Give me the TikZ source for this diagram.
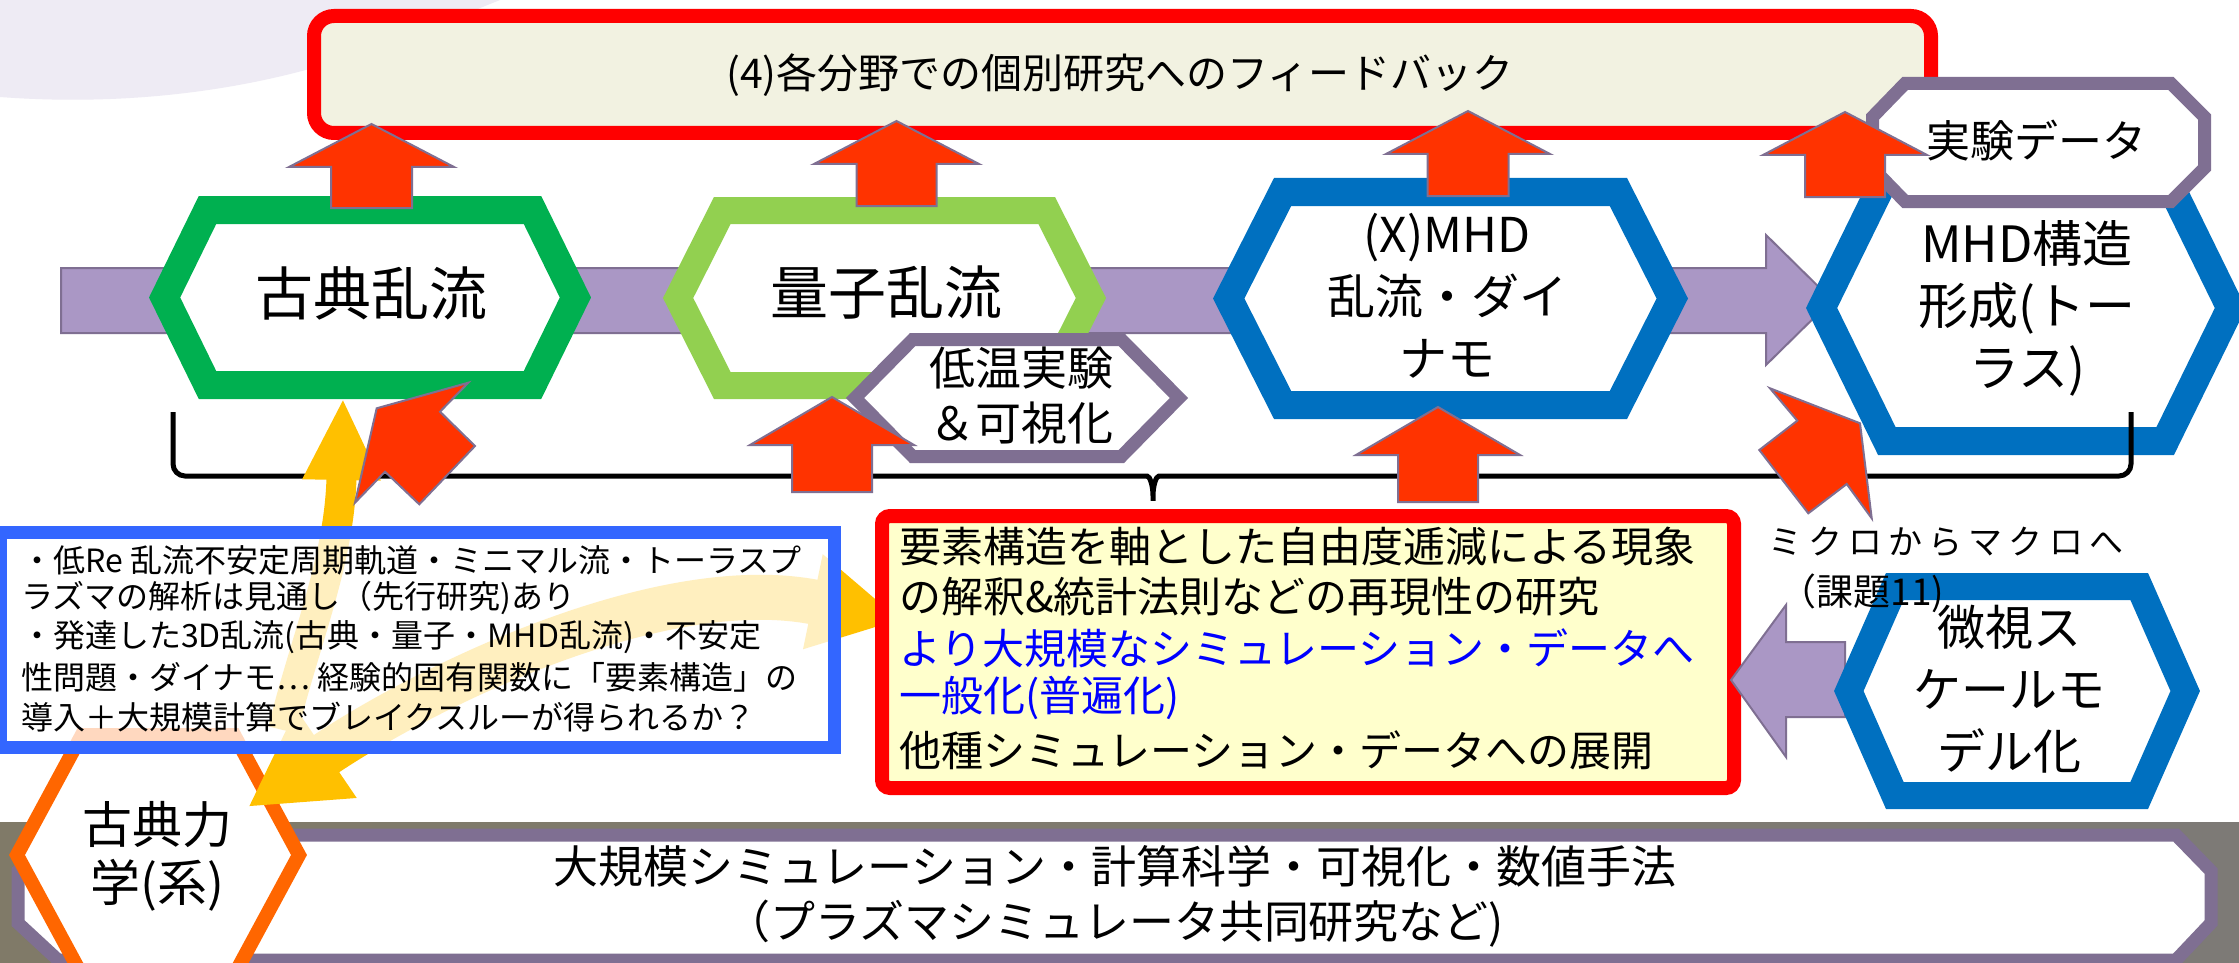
\documentclass[tikz,border=0pt]{standalone}
\usepackage{fontspec}
\setmainfont{Noto Sans CJK JP}
\usetikzlibrary{arrows.meta}
\definecolor{grn}{RGB}{0,176,80}
\definecolor{lgrn}{RGB}{146,208,80}
\definecolor{hblue}{RGB}{0,112,192}
\definecolor{pgray}{RGB}{127,111,146}
\definecolor{pband}{RGB}{170,151,197}
\definecolor{rarrow}{RGB}{255,51,0}
\definecolor{rbord}{RGB}{255,0,0}
\definecolor{topfill}{RGB}{242,242,225}
\definecolor{yfill}{RGB}{255,255,204}
\definecolor{bbord}{RGB}{51,102,255}
\definecolor{yarr}{RGB}{255,192,0}
\definecolor{oran}{RGB}{255,102,0}
\definecolor{blobc}{RGB}{238,235,244}
\definecolor{btext}{RGB}{0,0,255}
\definecolor{photoL}{RGB}{128,122,104}
\definecolor{photoR}{RGB}{125,122,118}
\newcommand\fs[2]{\fontsize{#1}{#2}\selectfont}
% hexagon: cx cy b a h linewidth colour
\newcommand\hexa[7]{\draw[line width=#6pt, draw=#7, fill=white, line join=miter]
  ({#1-#3},#2) -- ({#1-#4},{#2-#5}) -- ({#1+#4},{#2-#5}) -- ({#1+#3},#2) --
  ({#1+#4},{#2+#5}) -- ({#1-#4},{#2+#5}) -- cycle;}
% up block arrow: c tip headbase bottom headhalf shafthalf
\newcommand\uparr[6]{\draw[redarr] ({#1-#6},#4) -- ({#1-#6},#3) -- ({#1-#5},#3) --
  (#1,#2) -- ({#1+#5},#3) -- ({#1+#6},#3) -- ({#1+#6},#4) -- cycle;}
\tikzset{
  redarr/.style={fill=rarrow, draw=pgray, line width=2pt, line join=miter},
  bandarr/.style={fill=pband, draw=pgray, line width=2pt, line join=miter},
  brace/.style={draw=black, line width=5pt, rounded corners=12pt},
  yel/.style={draw=yarr, line cap=butt},
  lbl/.style={inner sep=0pt, align=center},
  lline/.style={inner sep=0pt, anchor=west}
}
\begin{document}
\begin{tikzpicture}[x=1pt, y=-1pt]
\useasboundingbox (0,0) rectangle (2239,963);
\fill[white] (0,0) rectangle (2239,963);
% background blob
\fill[blobc] (0,0) -- (500,0) .. controls (450,20) and (400,42) .. (320,66)
  .. controls (230,92) and (120,106) .. (0,97) -- cycle;
% photo strip at the bottom
\shade[left color=photoL, right color=photoR] (0,822) rectangle (2239,963);
% bottom band
\draw[line width=13pt, draw=pgray, fill=white, line join=miter]
  (58,835) -- (2176,835) -- (2211,871) -- (2211,923) -- (2176,960) -- (58,960)
  -- (18,923) -- (18,871) -- cycle;
% main purple arrow
\draw[bandarr] (61,268) -- (1766,268) -- (1766,235) -- (1832,300) -- (1766,365)
  -- (1766,333) -- (61,333) -- cycle;
% top feedback box
\draw[line width=14pt, draw=rbord, fill=topfill, rounded corners=20pt]
  (314,16) rectangle (1931,133);
\node[lbl, font=\fs{41}{41}] (fb) at (1120,75) {(4)各分野での個別研究へのフィードバック};
% hexagons
\hexa{370}{297.5}{205.4}{162.5}{87.5}{28}{grn}
\hexa{884.5}{298}{206.4}{162.2}{87.5}{27}{lgrn}
\hexa{1450.5}{298.5}{221.8}{167.9}{106.5}{28}{hblue}
\hexa{2026}{308}{204.4}{139.2}{133}{28}{hblue}
\hexa{1017}{398}{161.9}{104.3}{58.5}{13}{pgray}
% experiment data octagon
\draw[line width=13pt, draw=pgray, fill=white, line join=miter]
  (1905,83.5) -- (2171,83.5) -- (2204.5,117) -- (2204.5,168) -- (2171,201.5)
  -- (1905,201.5) -- (1872.5,168) -- (1872.5,117) -- cycle;
\node[lbl, font=\fs{58}{58}] (kt) at (371,293) {古典乱流};
\node[lbl, font=\fs{58}{58}] (qt) at (886,293) {量子乱流};
\node[lbl, font=\fs{48}{62}] (mhd) at (1447,296) {(X)MHD\\乱流・ダイ\\ナモ};
\node[lbl, font=\fs{50}{62}] (mhds) at (2027,308) {MHD構造\\形成(トー\\ラス)};
\node[lbl, font=\fs{44}{44}] (exp) at (2036,141) {実験データ};
\node[lbl, font=\fs{46}{55}] (lowt) at (1021,396) {低温実験\\＆可視化};
% brace
\draw[brace] (173,412) -- (173,476) -- (1135,476)
  .. controls (1150,476) and (1153,486) .. (1153,508)
  .. controls (1153,486) and (1156,476) .. (1171,476) -- (2131,476) -- (2131,412);
% classical mechanics hexagon
\hexa{158}{855}{141}{76.2}{120}{14}{oran}
\node[lbl, font=\fs{50}{58}] (cm) at (157,856) {古典力\\学(系)};
% yellow arrows
\draw[yel, line width=30pt, -{Triangle[length=82pt,width=72pt]}]
  (283,730) .. controls (305,640) and (340,560) .. (343,398);
\draw[yel, line width=45pt, {Triangle[length=95pt,width=100pt]}-{Triangle[length=90pt,width=90pt]}]
  (248,807) .. controls (420,690) and (660,570) .. (901,620);
% blue text box
\draw[line width=13pt, draw=bbord, fill=white, fill opacity=0.75]
  (0.5,532) rectangle (834.5,747);
\node[lline, font=\fs{32}{32}] (b1) at (21,560) {・低Re 乱流不安定周期軌道・ミニマル流・トーラスプ};
\node[lline, font=\fs{32}{32}] (b2) at (21,598) {ラズマの解析は見通し（先行研究)あり};
\node[lline, font=\fs{32}{32}] (b3) at (21,637) {・発達した3D乱流(古典・量子・MHD乱流)・不安定};
\node[lline, font=\fs{32}{32}] (b4) at (21,677) {性問題・ダイナモ… 経験的固有関数に「要素構造」の};
\node[lline, font=\fs{32}{32}] (b5) at (21,717) {導入＋大規模計算でブレイクスルーが得られるか？};
% element structure box
\draw[line width=14pt, draw=rbord, fill=yfill, rounded corners=8pt]
  (882,516) rectangle (1734,788);
\node[lline, font=\fs{42}{42}] (r1) at (899,547) {要素構造を軸とした自由度逓減による現象};
\node[lline, font=\fs{42}{42}] (r2) at (899,597) {の解釈\&統計法則などの再現性の研究};
\node[lline, font=\fs{42}{42}, text=btext] (r3) at (899,648) {より大規模なシミュレーション・データへ};
\node[lline, font=\fs{42}{42}, text=btext] (r4) at (899,698) {一般化(普遍化)};
\node[lline, font=\fs{42}{42}] (r5) at (899,750) {他種シミュレーション・データへの展開};
% red block arrows
\uparr{371.5}{124}{167}{208}{82.5}{40.5}
\uparr{896.5}{121}{164}{206}{82.5}{40}
\uparr{1468}{111}{154}{196}{82}{40.5}
\uparr{1845}{112}{155}{197}{82}{40}
\uparr{832}{397}{445}{492}{82}{40}
\uparr{1438}{407}{455}{502}{82}{40}
\draw[redarr] (468.3,382.7) -- (376.7,408.3) -- (355,502.7) -- (385,471.7)
  -- (419.3,504.3) -- (475,446) -- (440,411.7) -- cycle;
\draw[redarr] (1770,388.3) -- (1860,423.3) -- (1871.7,518.3) -- (1846.7,484)
  -- (1808.3,513.3) -- (1759.3,450) -- (1797.3,420.7) -- cycle;
% purple arrow from micro-scale modelling
\draw[bandarr] (1731,680) -- (1786,605) -- (1786,642) -- (1845,642) -- (1845,717)
  -- (1786,717) -- (1786,757) -- cycle;
\hexa{2017}{691}{168.2}{122.2}{104.5}{27}{hblue}
\node[lbl, font=\fs{48}{62}] (micro) at (2009,689) {微視ス\\ケールモ\\デル化};
% labels
\node[lline, font=\fs{34}{34}\addfontfeatures{LetterSpace=18}] (mm) at (1768,542) {ミクロからマクロへ};
\node[lbl, font=\fs{37}{37}] (kd) at (1862,593) {（課題11)};
% bottom band text
\node[lbl, font=\fs{45}{55}] (sim) at (1115,896) {大規模シミュレーション・計算科学・可視化・数値手法\\（プラズマシミュレータ共同研究など)};
\end{tikzpicture}
\end{document}
